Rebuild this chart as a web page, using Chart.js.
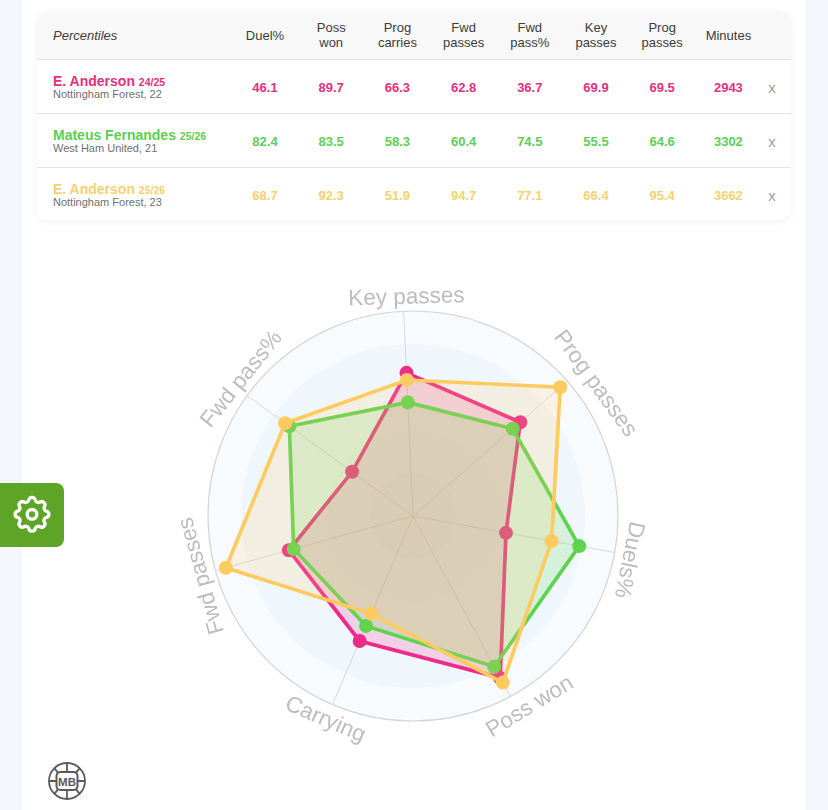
<!DOCTYPE html>
<html><head><meta charset="utf-8">
<script src="https://cdn.jsdelivr.net/npm/chart.js@4"></script>
<style>
html,body{margin:0;padding:0;width:828px;height:810px;overflow:hidden;background:#f4f6fb;font-family:"Liberation Sans",Arial,sans-serif}
#card{position:absolute;left:22px;top:-20px;width:784px;height:860px;background:#fff;border-radius:14px}
#tbl{position:absolute;left:37px;top:12px;width:754px;height:208px;background:#fff;border-radius:10px;box-shadow:0 1px 8px rgba(0,0,0,.06);overflow:hidden}
#head{position:absolute;left:0;top:0;width:100%;height:47px;background:#f8f8f8;border-bottom:1px solid #e2e2e2}
.t{position:absolute;white-space:nowrap;transform:translate(-50%,-50%);text-align:center}
.h{font-size:13px;line-height:15px;color:#3c3c3c}
.row{position:absolute;left:0;width:100%;height:1px;background:#e4e4e4}
.nm{position:absolute;left:16px;white-space:nowrap;font-weight:bold;font-size:14px;line-height:15px}
.nm small{font-size:10.5px}
.sb{position:absolute;left:16px;white-space:nowrap;font-size:11px;line-height:12px;color:#6f6f6f}
.v{font-size:13px;font-weight:bold}
#wrap{position:absolute;left:143px;top:246px;width:541px;height:541px}
#gear{position:absolute;left:0;top:483px;width:64px;height:64px;background:#5ea527;border-radius:0 8px 8px 0}
#logo{position:absolute;left:47px;top:761px}
</style></head><body>
<div id="card"></div>
<div id="tbl"><div id="head"></div></div>
<div id="wrap"><canvas id="c"></canvas></div>
<div id="gear"><svg width="64" height="64" viewBox="0 0 24 24" fill="none" stroke="#fff" stroke-width="1.800" stroke-linecap="round" stroke-linejoin="round" style="transform:scale(.7) translateY(-1px)"><circle cx="12" cy="12" r="2.6"/><path d="M10.3 4.3c.4-1.800 3-1.800 3.400 0a1.700 1.700 0 0 0 2.600 1.100c1.500-.9 3.300.8 2.400 2.400a1.700 1.700 0 0 0 1 2.500c1.800.4 1.800 3 0 3.400a1.700 1.700 0 0 0-1 2.600c.9 1.500-.9 3.300-2.400 2.400a1.700 1.700 0 0 0-2.600 1c-.4 1.800-3 1.800-3.400 0a1.700 1.700 0 0 0-2.600-1c-1.500.9-3.300-.9-2.400-2.400a1.700 1.700 0 0 0-1-2.600c-1.800-.4-1.800-3 0-3.400a1.700 1.700 0 0 0 1-2.500c-.9-1.600.9-3.300 2.400-2.400 1 .6 2.300.1 2.600-1.100z"/></svg></div>
<svg id="logo" width="40" height="40" viewBox="0 0 40 40" fill="none" stroke="#5a5a5a" stroke-width="1.800">
<circle cx="20" cy="20" r="18"/><rect x="9.500" y="11" width="21" height="18" rx="4" stroke-width="2"/>
<path d="M20 2v9M20 29v9M2 20h7.500M30.500 20h7.500M7 7c3 3 3 3 4 5M33 7c-3 3-3 3-4 5M7 33c3-3 3-3 4-5M33 33c-3-3-3-3-4-5"/>
<text x="20" y="24.500" text-anchor="middle" font-family="Liberation Sans" font-weight="bold" font-size="11.500" fill="#5a5a5a" stroke="none">MB</text></svg>
<script>
// table
const columnHeaders = [["Duel%"],["Poss","won"],["Prog","carries"],["Fwd","passes"],["Fwd","pass%"],["Key","passes"],["Prog","passes"],["Minutes"]];
const players = ["E. Anderson","Mateus Fernandes","E. Anderson"];
const seasons = ["24/25","25/26","25/26"];
const clubs = ["Nottingham Forest, 22","West Ham United, 21","Nottingham Forest, 23"];
const colors = ["#ee2a8b","#5fd34f","#fdcb5f"];
const tableColors = ["#e5307f","#5ccf55","#f7d16f"];
const rowPink = ["46.1","89.7","66.3","62.8","36.7","69.9","69.5","2943"];
const rowGreen = ["82.4","83.5","58.3","60.4","74.5","55.5","64.6","3302"];
const rowYellow = ["68.7","92.3","51.9","94.7","77.1","66.4","95.4","3662"];
// radar
const axisLabels = ["Key passes","Prog passes","Duels%","Poss won","Carrying","Fwd passes","Fwd pass%"];
const pinkValues = [69.9,69.5,46.1,89.7,66.3,62.8,36.7];
const greenValues = [55.5,64.6,82.4,83.5,58.3,60.4,74.5];
const yellowValues = [66.4,95.4,68.7,92.3,51.9,94.7,77.1];

const tbl=document.getElementById('tbl');
function add(cls,txt,x,y,col){const d=document.createElement('div');d.className=cls;d.innerHTML=txt;d.style.left=x+'px';d.style.top=y+'px';if(col)d.style.color=col;tbl.appendChild(d);return d;}
const p=add('t h','<i>Percentiles</i>',0,23);p.style.transform='translateY(-50%)';p.style.left='16px';
const colX=i=>228+i*66.2;
columnHeaders.forEach((h,i)=>add('t h',h.join('<br>'),colX(i),23));
[rowPink,rowGreen,rowYellow].forEach((r,k)=>{
  const y=k*54;
  if(k>0){const s=document.createElement('div');s.className='row';s.style.top=(47+y)+'px';tbl.appendChild(s);}
  add('nm',players[k]+' <small>'+seasons[k]+'</small>',16,62+y,tableColors[k]);
  add('sb',clubs[k],16,76+y);
  r.forEach((v,i)=>add('t v',v,colX(i),75+y,tableColors[k]));
  add('t','x',735,74.5+y,'#a0a0a0').style.fontSize='15px';
});

const ringPlugin={id:'rings',beforeDatasetsDraw(ch){
  const s=ch.scales.r,c=ch.ctx;
  const rings=[[100,'#f8fbfe'],[84,'#f0f7fc'],[42,'#eef5f8'],[21,'#ecf2f5']];
  rings.forEach(([v,col])=>{c.beginPath();c.arc(s.xCenter,s.yCenter,s.getDistanceFromCenterForValue(v),0,Math.PI*2);c.fillStyle=col;c.fill();});
  c.beginPath();c.arc(s.xCenter,s.yCenter,s.drawingArea,0,Math.PI*2);c.strokeStyle='#d6d6d6';c.lineWidth=1.2;c.stroke();
  c.strokeStyle='#d8d8d8';c.lineWidth=1;
  axisLabels.forEach((_,i)=>{const q=s.getPointPosition(i,s.drawingArea);c.beginPath();c.moveTo(s.xCenter,s.yCenter);c.lineTo(q.x,q.y);c.stroke();});
}};
const labelSpec=[[218.5,0.9,0],[225,5.2,0],[220,1.2,0],[224,-3.2,Math.PI],[222,0.2,Math.PI],[219.5,-0.3,0],[219,2.6,0]];
const labelPlugin={id:'curvedLabels',afterDraw(ch){
  const s=ch.scales.r,c=ch.ctx;
  axisLabels.forEach((t,i)=>{
    const [d,add,flip]=labelSpec[i];
    const q=s.getPointPosition(i,d,add*Math.PI/180);
    const a=s.getIndexAngle(i)+add*Math.PI/180+flip;
    c.save();c.translate(q.x,q.y);c.rotate(a);
    c.font='22.5px "Liberation Sans"';c.fillStyle='#bdbdbd';c.textAlign='center';c.textBaseline='middle';
    c.fillText(t,0,0);c.restore();
  });
}};
function ds(label,data,col,order,alpha){return{label,data,order,borderColor:col,backgroundColor:col+alpha,borderWidth:3.7,pointRadius:7,pointHoverRadius:7,pointBackgroundColor:col,pointBorderColor:col,pointBorderWidth:0,fill:true,tension:0};}
new Chart(document.getElementById('c'),{type:'radar',
 data:{labels:axisLabels,datasets:[ds(players[0]+' '+seasons[0],pinkValues,colors[0],3,'30'),ds(players[1]+' '+seasons[1],greenValues,colors[1],2,'30'),ds(players[2]+' '+seasons[2],yellowValues,colors[2],1,'2a')]},
 options:{responsive:true,maintainAspectRatio:true,aspectRatio:1,animation:false,devicePixelRatio:1,
  layout:{padding:65},
  plugins:{legend:{display:false},tooltip:{enabled:false}},
  scales:{r:{min:0,max:100,startAngle:-2.6,ticks:{display:false},pointLabels:{display:false},grid:{display:false},angleLines:{display:false}}}},
 plugins:[ringPlugin,labelPlugin]});
</script>
</body></html>
